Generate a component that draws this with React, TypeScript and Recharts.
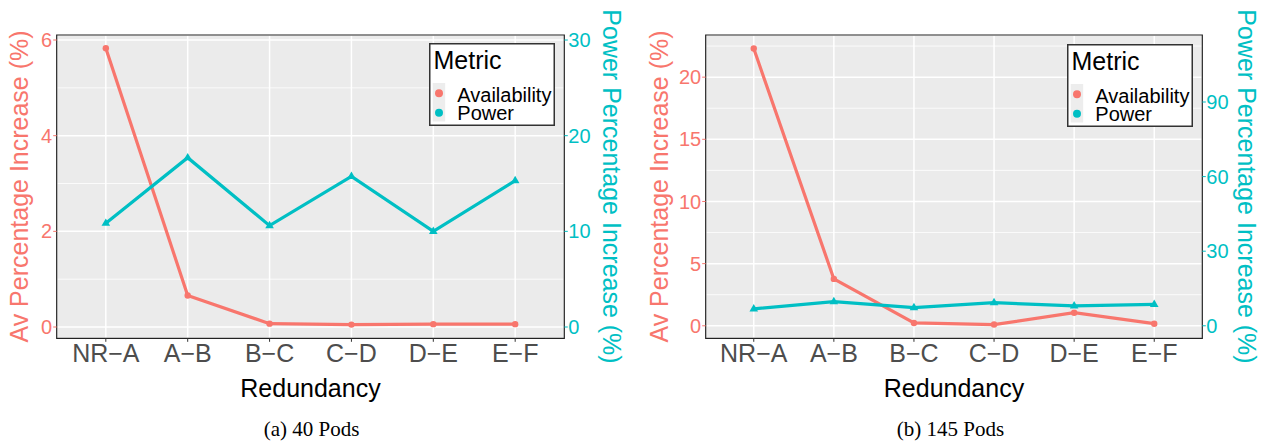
import React from 'react';
import { LineChart, Line, XAxis, YAxis, CartesianGrid, ReferenceArea, Legend } from 'recharts';

// ---- data ----
const categories = ['NR−A', 'A−B', 'B−C', 'C−D', 'D−E', 'E−F'];
const metrics = ['Availability', 'Power'];

const av40 = [5.83, 0.66, 0.07, 0.05, 0.06, 0.06];
const pw40 = [10.85, 17.7, 10.6, 15.75, 10.0, 15.3];

const av145 = [22.3, 3.77, 0.23, 0.1, 1.05, 0.17];
const pw145 = [6.8, 9.7, 7.3, 9.3, 8.0, 8.6];

const avTicks40 = [0, 2, 4, 6];
const avMinor40 = [1, 3, 5];
const pwTicks40 = [0, 10, 20, 30];

const avTicks145 = [0, 5, 10, 15, 20];
const avMinor145 = [2.5, 7.5, 12.5, 17.5, 22.5];
const pwTicks145 = [0, 30, 60, 90];

const xTicks = [1, 2, 3, 4, 5, 6];

const SAL = '#F8766D';
const CYAN = '#00BFC4';
const SANS = "'Liberation Sans', Arial, Helvetica, sans-serif";
const SERIF = "'Liberation Serif', 'Times New Roman', serif";

const build = (av: number[], pw: number[]) =>
  categories.map((c, i) => ({ x: i + 1, cat: c, av: av[i], pw: pw[i] }));

const Triangle = (props: any) => {
  const { cx, cy } = props;
  if (cx == null || cy == null) return null;
  return (
    <path
      d={`M${cx},${cy - 4.8}L${cx + 4.3},${cy + 2.6}L${cx - 4.3},${cy + 2.6}Z`}
      fill={CYAN}
    />
  );
};

const LegendBox = () => (
  <svg width={126} height={83} style={{ display: 'block', fontFamily: SANS }}>
    <rect x={0.75} y={0.75} width={124.5} height={81.5} fill="#fff" stroke="#333" strokeWidth={1.5} />
    <text x={4.5} y={26} fontSize={25} fill="#000">Metric</text>
    <rect x={3.7} y={40} width={12.5} height={38.5} fill="#EDEDED" />
    <circle cx={10} cy={50.3} r={4} fill={SAL} />
    <circle cx={10} cy={69.7} r={4} fill={CYAN} />
    <text x={28.3} y={58.7} fontSize={20} fill="#000">{metrics[0]}</text>
    <text x={28.3} y={77} fontSize={20} fill="#000">{metrics[1]}</text>
  </svg>
);

type PanelProps = {
  left: number;
  av: number[];
  pw: number[];
  avDomain: [number, number];
  avTicks: number[];
  avMinor: number[];
  pwTicks: number[];
  margin: { top: number; right: number; bottom: number; left: number };
  leftTitleX: number;
  rightTitleX: number;
  centerX: number;
  captionX: number;
  caption: string;
  legendLeft: number;
  legendTop: number;
};

const Panel = (p: PanelProps) => {
  const data = build(p.av, p.pw);
  const pwDomain: [number, number] = [p.avDomain[0] * 5, p.avDomain[1] * 5];
  return (
    <div style={{ position: 'absolute', left: p.left, top: 0, width: 636, height: 443 }}>
      <LineChart width={636} height={443} data={data} margin={p.margin}>
        <CartesianGrid
          yAxisId="left"
          fill="#EBEBEB"
          stroke="#FFFFFF"
          strokeWidth={0.8}
          vertical={false}
          horizontalValues={p.avMinor}
        />
        <CartesianGrid yAxisId="left" fill="none" stroke="#FFFFFF" strokeWidth={1.5} />
        <XAxis
          type="number"
          dataKey="x"
          domain={[0.4, 6.6]}
          allowDataOverflow
          ticks={xTicks}
          tickFormatter={(v: number) => categories[v - 1]}
          height={40}
          axisLine={false}
          tickLine={{ stroke: '#333', strokeWidth: 1 }}
          tickSize={3.5}
          tickMargin={2}
          interval={0}
          tick={{ fill: '#4D4D4D', fontSize: 25, fontFamily: SANS }}
          label={{
            content: () => (
              <g>
                <text x={p.centerX} y={396.7} textAnchor="middle" fontSize={25} fill="#000" fontFamily={SANS}>
                  Redundancy
                </text>
                <text x={p.captionX} y={436} textAnchor="middle" fontSize={21} fill="#000" fontFamily={SERIF}>
                  {p.caption}
                </text>
              </g>
            ),
          }}
        />
        <YAxis
          yAxisId="left"
          type="number"
          domain={p.avDomain}
          allowDataOverflow
          ticks={p.avTicks}
          width={40}
          axisLine={false}
          tickLine={{ stroke: SAL, strokeWidth: 1 }}
          tickSize={3.5}
          tickMargin={1}
          interval={0}
          tick={{ fill: SAL, fontSize: 20, fontFamily: SANS }}
          label={{
            content: () => (
              <text
                x={p.leftTitleX}
                y={186.5}
                transform={`rotate(-90 ${p.leftTitleX} 186.5)`}
                textAnchor="middle"
                fontSize={25}
                fill={SAL}
                fontFamily={SANS}
              >
                Av Percentage Increase (%)
              </text>
            ),
          }}
        />
        <YAxis
          yAxisId="right"
          orientation="right"
          type="number"
          domain={pwDomain}
          allowDataOverflow
          ticks={p.pwTicks}
          width={40}
          axisLine={false}
          tickLine={{ stroke: CYAN, strokeWidth: 1 }}
          tickSize={3.5}
          tickMargin={0.5}
          interval={0}
          tick={{ fill: CYAN, fontSize: 20, fontFamily: SANS }}
          label={{
            content: () => (
              <text
                x={p.rightTitleX}
                y={186.5}
                transform={`rotate(90 ${p.rightTitleX} 186.5)`}
                textAnchor="middle"
                fontSize={25}
                fill={CYAN}
                fontFamily={SANS}
              >
                Power Percentage Increase (%)
              </text>
            ),
          }}
        />
        <ReferenceArea
          yAxisId="left"
          x1={0.4}
          x2={6.6}
          y1={p.avDomain[0]}
          y2={p.avDomain[1]}
          fill="none"
          fillOpacity={0}
          stroke="#222"
          strokeWidth={1.2}
          ifOverflow="visible"
        />
        <Line
          yAxisId="left"
          type="linear"
          dataKey="av"
          name={metrics[0]}
          stroke={SAL}
          strokeWidth={3.2}
          dot={{ r: 3.2, fill: SAL, stroke: SAL, strokeWidth: 0 }}
          activeDot={false}
          isAnimationActive={false}
        />
        <Line
          yAxisId="right"
          type="linear"
          dataKey="pw"
          name={metrics[1]}
          stroke={CYAN}
          strokeWidth={3.2}
          dot={<Triangle />}
          activeDot={false}
          isAnimationActive={false}
        />
        <Legend
          layout="vertical"
          align="center"
          verticalAlign="middle"
          content={() => <LegendBox />}
          wrapperStyle={{ position: 'absolute', left: p.legendLeft, top: p.legendTop, width: 126, height: 83 }}
        />
      </LineChart>
    </div>
  );
};

export default function App() {
  return (
    <div
      style={{
        position: 'absolute',
        left: 0,
        top: 0,
        width: 1272,
        height: 443,
        background: '#fff',
        fontFamily: SANS,
      }}
    >
      <Panel
        left={0}
        av={av40}
        pw={pw40}
        avDomain={[-0.236, 6.105]}
        avTicks={avTicks40}
        avMinor={avMinor40}
        pwTicks={pwTicks40}
        margin={{ top: 35, right: 31.7, bottom: 64.7, left: 16.7 }}
        leftTitleX={28.3}
        rightTitleX={602.5}
        centerX={310.5}
        captionX={311.5}
        caption="(a) 40 Pods"
        legendLeft={429}
        legendTop={43.3}
      />
      <Panel
        left={636}
        av={av145}
        pw={pw145}
        avDomain={[-1.006, 23.39]}
        avTicks={avTicks145}
        avMinor={avMinor145}
        pwTicks={pwTicks145}
        margin={{ top: 35, right: 29.7, bottom: 64.7, left: 29.7 }}
        leftTitleX={32.3}
        rightTitleX={602}
        centerX={318}
        captionX={314.5}
        caption="(b) 145 Pods"
        legendLeft={430.7}
        legendTop={44}
      />
    </div>
  );
}
